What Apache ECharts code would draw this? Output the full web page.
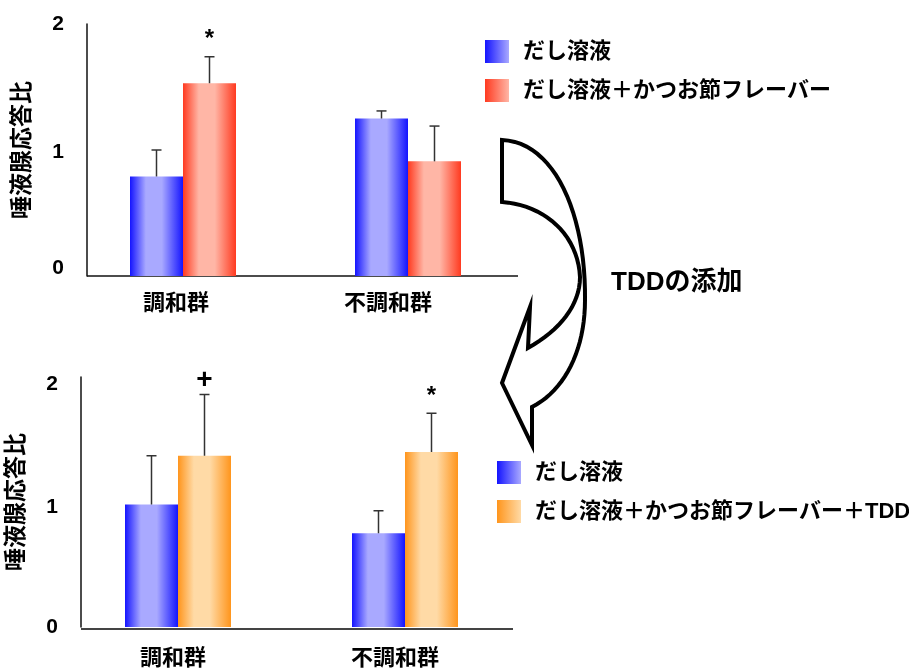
<!DOCTYPE html>
<html>
<head>
<meta charset="utf-8">
<script src="https://cdn.jsdelivr.net/npm/echarts@6/dist/echarts.min.js"></script>
<style>
  html, body { margin: 0; padding: 0; background: #fff; }
  #chart { width: 909px; height: 670px; }
</style>
</head>
<body>
<div id="chart"></div>
<script>
var categories = ['調和群', '不調和群'];
var yTicks = [0, 1, 2];
var yName = '唾液腺応答比';

// upper chart
var topDashi = [0.79, 1.25];
var topDashiErr = [0.21, 0.06];
var topKatsuo = [1.53, 0.91];
var topKatsuoErr = [0.21, 0.28];
var topMarks = ['*', ''];

// lower chart (after TDD)
var botDashi = [0.98, 0.75];
var botDashiErr = [0.39, 0.18];
var botTdd = [1.37, 1.40];
var botTddErr = [0.49, 0.31];
var botMarks = ['+', '*'];

var nameDashi = 'だし溶液';
var nameKatsuo = 'だし溶液＋かつお節フレーバー';
var nameTdd = 'だし溶液＋かつお節フレーバー＋TDD';

var FONT = '"Liberation Sans", "Noto Sans CJK JP", sans-serif';
var BAR_W = 53;

function barGrad(dark, light) {
  return { type: 'linear', x: 0, y: 0, x2: 1, y2: 0, colorStops: [
    { offset: 0, color: dark },
    { offset: 0.3, color: light },
    { offset: 0.6, color: light },
    { offset: 1, color: dark }
  ] };
}
function iconGrad(dark, light) {
  return { type: 'linear', x: 0, y: 0, x2: 1, y2: 0, colorStops: [
    { offset: 0, color: dark },
    { offset: 1, color: light }
  ] };
}
var BLUE = ['#1414ff', '#a9a9ff'];
var RED = ['#ff3a20', '#ffb6a6'];
var ORANGE = ['#ff951c', '#ffdaa6'];

function errRows(a, aErr, b, bErr) {
  var rows = [];
  for (var i = 0; i < a.length; i++) {
    rows.push([i, a[i], aErr[i], -1]);
    rows.push([i, b[i], bErr[i], 1]);
  }
  return rows;
}

function errorBars(marks) {
  return function (params, api) {
    var idx = api.value(0), side = api.value(3);
    var base = api.coord([idx, api.value(1)]);
    var top = api.coord([idx, api.value(1) + api.value(2)]);
    var x = base[0] + side * BAR_W / 2;
    var st = { stroke: '#333', lineWidth: 1.5 };
    var kids = [
      { type: 'line', shape: { x1: x, y1: base[1], x2: x, y2: top[1] }, style: st },
      { type: 'line', shape: { x1: x - 5, y1: top[1], x2: x + 5, y2: top[1] }, style: st }
    ];
    var m = side > 0 ? marks[idx] : '';
    if (m) {
      var star = m === '*';
      kids.push({ type: 'text', x: x, y: top[1] - (star ? 17 : 14),
        style: { text: m, fill: '#000', fontSize: star ? 24 : 28, fontWeight: 'bold', fontFamily: FONT,
                 align: 'center', verticalAlign: 'middle' } });
    }
    return { type: 'group', children: kids };
  };
}

// shifts: vertical nudge (px, + = up) of each tick label, like the original's loose placement
function yAxisOpt(gridIndex, offset, shifts) {
  var rich = {};
  shifts.forEach(function (s, i) {
    rich['t' + i] = { fontSize: 21, fontWeight: 'bold', color: '#000', fontFamily: FONT,
                      padding: s > 0 ? [0, 0, 2 * s, 0] : [-2 * s, 0, 0, 0] };
  });
  return {
    gridIndex: gridIndex, type: 'value', min: yTicks[0], max: yTicks[yTicks.length - 1], interval: 1,
    offset: offset,
    name: yName, nameLocation: 'middle', nameRotate: 90, nameGap: 53,
    nameTextStyle: { fontSize: 23, fontWeight: 'bold', color: '#000', fontFamily: FONT },
    axisLine: { show: true, lineStyle: { color: '#111', width: 1.5 } },
    axisTick: { show: false },
    splitLine: { show: false },
    axisLabel: { margin: 23,
      formatter: function (v) { return '{t' + yTicks.indexOf(v) + '|' + v + '}'; }, rich: rich }
  };
}
function xAxisOpt(gridIndex, margin, shifts) {
  var rich = {};
  shifts.forEach(function (s, i) {
    rich['c' + i] = { fontSize: 22, fontWeight: 'bold', color: '#000', fontFamily: FONT,
                      padding: [0, s, 0, 0] };
  });
  return {
    gridIndex: gridIndex, type: 'category', data: categories,
    axisLine: { show: false }, axisTick: { show: false },
    axisLabel: { margin: margin, interval: 0,
      formatter: function (v, i) { return '{c' + i + '|' + v + '}'; }, rich: rich }
  };
}
function legendOpt(left, top, items) {
  return {
    left: left, top: top, orient: 'vertical', itemWidth: 24, itemHeight: 23, itemGap: 16,
    selectedMode: false,
    textStyle: { fontSize: 22, fontWeight: 'bold', color: '#000', fontFamily: FONT, padding: [0, 0, 0, 9] },
    data: items.map(function (it) {
      return { name: it[0], icon: 'rect', itemStyle: { color: iconGrad(it[1][0], it[1][1]) } };
    })
  };
}

// sample cubic bezier segments into polygon points (decorative arrow outline)
function bez(p0, p1, p2, p3, n) {
  var pts = [];
  for (var k = 1; k <= n; k++) {
    var t = k / n, u = 1 - t;
    pts.push([
      u * u * u * p0[0] + 3 * u * u * t * p1[0] + 3 * u * t * t * p2[0] + t * t * t * p3[0],
      u * u * u * p0[1] + 3 * u * u * t * p1[1] + 3 * u * t * t * p2[1] + t * t * t * p3[1]
    ]);
  }
  return pts;
}
var arrowPts = [[502, 140]]
  .concat(bez([502, 140], [555, 142], [586, 215], [585, 300], 24))
  .concat(bez([585, 300], [585, 350], [565, 390], [532, 407], 20))
  .concat([[532, 445], [502, 383], [530, 307], [528, 348]])
  .concat(bez([528, 348], [560, 330], [580, 305], [580, 277], 16))
  .concat(bez([580, 277], [578, 235], [545, 205], [502, 202], 20));

var chart = echarts.init(document.getElementById('chart'));
var option = {
  animation: false,
  backgroundColor: '#fff',
  grid: [
    { left: 70.5, top: 24, width: 450, height: 252 },
    { left: 64.5, top: 377, width: 454, height: 252 }
  ],
  xAxis: [xAxisOpt(0, 17, [14, 40]), xAxisOpt(1, 21, [10, 20])],
  yAxis: [yAxisOpt(0, -16.5, [8, -2, 0]), yAxisOpt(1, -16.5, [0, -5, -7])],
  legend: [
    legendOpt(480, 35, [[nameDashi, BLUE], [nameKatsuo, RED]]),
    legendOpt(492, 456, [[nameDashi, BLUE], [nameTdd, ORANGE]])
  ],
  series: [
    { type: 'bar', name: nameDashi, xAxisIndex: 0, yAxisIndex: 0, data: topDashi,
      barWidth: BAR_W, barGap: '0%', itemStyle: { color: barGrad(BLUE[0], BLUE[1]) } },
    { type: 'bar', name: nameKatsuo, xAxisIndex: 0, yAxisIndex: 0, data: topKatsuo,
      barWidth: BAR_W, barGap: '0%', itemStyle: { color: barGrad(RED[0], RED[1]) } },
    { type: 'custom', xAxisIndex: 0, yAxisIndex: 0, clip: false, z: 5,
      data: errRows(topDashi, topDashiErr, topKatsuo, topKatsuoErr), renderItem: errorBars(topMarks) },
    { type: 'bar', name: nameDashi, xAxisIndex: 1, yAxisIndex: 1, data: botDashi,
      barWidth: BAR_W, barGap: '0%', itemStyle: { color: barGrad(BLUE[0], BLUE[1]) } },
    { type: 'bar', name: nameTdd, xAxisIndex: 1, yAxisIndex: 1, data: botTdd,
      barWidth: BAR_W, barGap: '0%', itemStyle: { color: barGrad(ORANGE[0], ORANGE[1]) } },
    { type: 'custom', xAxisIndex: 1, yAxisIndex: 1, clip: false, z: 5,
      data: errRows(botDashi, botDashiErr, botTdd, botTddErr), renderItem: errorBars(botMarks) }
  ],
  graphic: [
    // category baselines (start at the y axis, not at the grid edge)
    { type: 'line', shape: { x1: 87, y1: 276, x2: 518, y2: 276 }, style: { stroke: '#111', lineWidth: 1.5 } },
    { type: 'line', shape: { x1: 81, y1: 629, x2: 513, y2: 629 }, style: { stroke: '#444', lineWidth: 2 } },
    // curved arrow
    { type: 'polygon', z: 10, shape: { points: arrowPts },
      style: { fill: '#fff', stroke: '#000', lineWidth: 4, lineJoin: 'miter' } },
    { type: 'text', left: 611, top: 270, z: 10,
      style: { text: 'TDDの添加', fontSize: 26, fontWeight: 'bold', fill: '#000', fontFamily: FONT } }
  ]
};
chart.setOption(option);
</script>
</body>
</html>
